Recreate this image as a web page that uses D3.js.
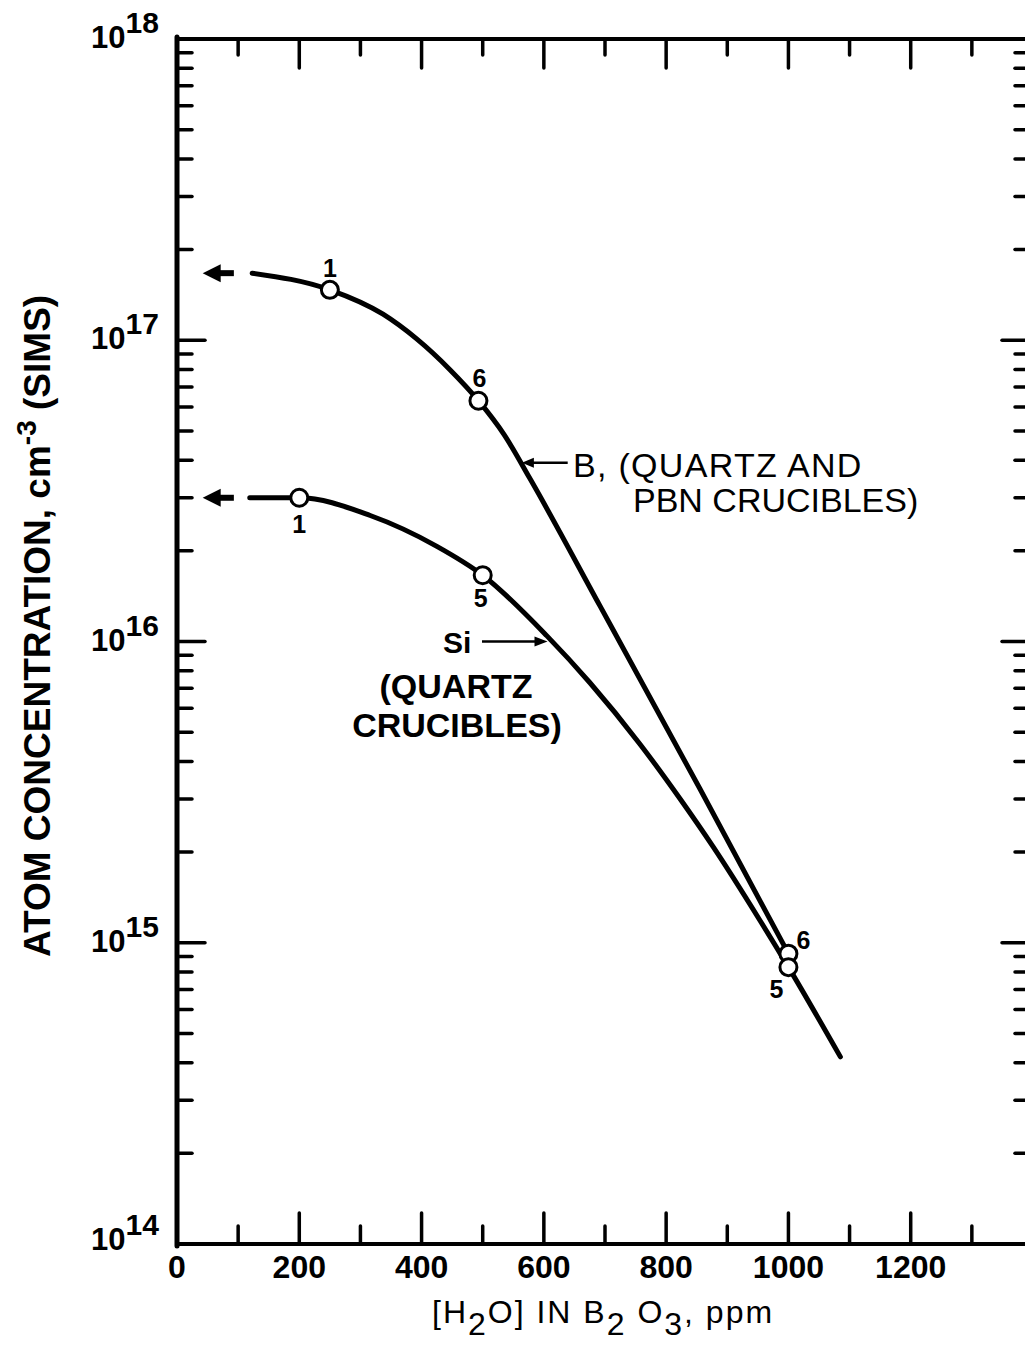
<!DOCTYPE html>
<html><head><meta charset="utf-8">
<script src="https://cdn.jsdelivr.net/npm/d3@7"></script>
<style>
body{margin:0;background:#fff;}
svg{display:block;font-family:"Liberation Sans",Arial,sans-serif;}
</style></head>
<body><svg id="c" width="1025" height="1353"></svg>
<script>
// ---- data ----
const xTicksMajor = [0,200,400,600,800,1000,1200];
const xTicksMinor = [100,300,500,700,900,1100,1300];
const yDecades = [14,15,16,17,18];
// Boron curve (quartz and PBN crucibles), ppm vs cm^-3
const bPpm  = [123, 250, 337, 392, 446, 493, 535, 577, 692, 855, 1000];
const bConc = [1.67e17, 1.47e17, 1.22e17, 1.01e17, 8.0e16, 6.3e16, 4.86e16, 3.48e16, 1.31e16, 3.25e15, 9.2e14];
// Boron measured points and run labels
const bPtPpm  = [250, 493, 1000];
const bPtConc = [1.47e17, 6.3e16, 9.2e14];
const bPtLab  = ["1","6","6"];
// Silicon curve (quartz crucibles)
const siPpm  = [119, 200, 316, 425, 500, 605, 675, 757, 823, 877, 953, 1000, 1085];
const siConc = [3.0e16, 3.0e16, 2.62e16, 2.07e16, 1.66e16, 1.044e16, 7.31e15, 4.57e15, 3.0e15, 2.08e15, 1.19e15, 8.3e14, 4.18e14];
const siPtPpm  = [200, 500, 1000];
const siPtConc = [3.0e16, 1.66e16, 8.3e14];
const siPtLab  = ["1","5","5"];
// extrapolation arrows toward 0 ppm (from, to)
const arrowPpm = [93, 42];
const bArrowConc = 1.67e17;
const siArrowConc = 3.0e16;

// ---- scales ----
const svg = d3.select("#c");
const x = d3.scaleLinear().domain([0,1400]).range([177,1033]);
const y = d3.scaleLog().domain([1e14,1e18]).range([1244,39]);
const X0 = x(0), X1 = x(1400), Y0 = y(1e14), Y1 = y(1e18);

// minor log ticks
const minorY = [];
for (let d=14; d<18; d++) for (let m=2; m<=9; m++) minorY.push(m*Math.pow(10,d));

// frame
const frame = svg.append("g").attr("stroke","#000").attr("stroke-linecap","round");
frame.append("line").attr("x1",X0).attr("x2",X0).attr("y1",Y1-2).attr("y2",Y0+2).attr("stroke-width",5);
frame.append("line").attr("x1",X0).attr("x2",X1).attr("y1",Y1).attr("y2",Y1).attr("stroke-width",4);
frame.append("line").attr("x1",X0).attr("x2",X1).attr("y1",Y0).attr("y2",Y0).attr("stroke-width",4);
frame.append("line").attr("x1",X1).attr("x2",X1).attr("y1",Y1).attr("y2",Y0).attr("stroke-width",4);

// x ticks top and bottom
const tk = svg.append("g").attr("stroke","#000").attr("stroke-width",3.5).attr("stroke-linecap","round");
xTicksMajor.filter(v=>v>0).forEach(v=>{
  tk.append("line").attr("x1",x(v)).attr("x2",x(v)).attr("y1",Y1).attr("y2",Y1+29);
  tk.append("line").attr("x1",x(v)).attr("x2",x(v)).attr("y1",Y0).attr("y2",Y0-31);
});
xTicksMinor.forEach(v=>{
  tk.append("line").attr("x1",x(v)).attr("x2",x(v)).attr("y1",Y1).attr("y2",Y1+16);
  tk.append("line").attr("x1",x(v)).attr("x2",x(v)).attr("y1",Y0).attr("y2",Y0-18);
});
// y ticks left and right
minorY.forEach(v=>{
  tk.append("line").attr("x1",X0).attr("x2",X0+15).attr("y1",y(v)).attr("y2",y(v));
  tk.append("line").attr("x1",X1-18).attr("x2",X1).attr("y1",y(v)).attr("y2",y(v));
});
yDecades.filter(d=>d>14&&d<18).forEach(d=>{
  const v=Math.pow(10,d);
  tk.append("line").attr("x1",X0).attr("x2",X0+28).attr("y1",y(v)).attr("y2",y(v));
  tk.append("line").attr("x1",X1-31).attr("x2",X1).attr("y1",y(v)).attr("y2",y(v));
});

// x tick labels
svg.append("g").selectAll("text").data(xTicksMajor).join("text")
  .attr("x",d=>x(d)).attr("y",Y0+34).attr("text-anchor","middle")
  .attr("font-size",32).attr("font-weight","bold").text(d=>d);

// y tick labels
yDecades.forEach(d=>{
  const t = svg.append("text").attr("x",91).attr("y",y(Math.pow(10,d))+(d===14?6:9))
    .attr("font-size",31).attr("font-weight","bold");
  t.append("tspan").text("10");
  t.append("tspan").attr("dy",-15).attr("font-size",30).text(d);
});

// axis titles
const xt = svg.append("text").attr("x",432).attr("y",1323).attr("font-size",32).attr("letter-spacing",2);
xt.append("tspan").text("[H");
xt.append("tspan").attr("dy",12).text("2");
xt.append("tspan").attr("dy",-12).text("O]  IN B");
xt.append("tspan").attr("dy",12).text("2");
xt.append("tspan").attr("dy",-12).text(" O");
xt.append("tspan").attr("dy",12).text("3");
xt.append("tspan").attr("dy",-12).text(", ppm");

const yt = svg.append("text").attr("transform","translate(50,957) rotate(-90)")
  .attr("font-size",37).attr("font-weight","bold");
yt.append("tspan").text("ATOM CONCENTRATION, cm");
yt.append("tspan").attr("dy",-14).attr("font-size",28).text("-3");
yt.append("tspan").attr("dy",14).text(" (SIMS)");

// curves
const line = d3.line().x(d=>x(d[0])).y(d=>y(d[1])).curve(d3.curveMonotoneX);
const curves = svg.append("g").attr("fill","none").attr("stroke","#000").attr("stroke-width",5).attr("stroke-linecap","round");
curves.append("path").attr("d",line(d3.zip(bPpm,bConc)));
curves.append("path").attr("d",line(d3.zip(siPpm,siConc)));

// extrapolation arrows
function arrow(conc){
  const yy=y(conc), xs=x(arrowPpm[0]), xe=x(arrowPpm[1]);
  svg.append("line").attr("x1",xs).attr("x2",xe+14).attr("y1",yy).attr("y2",yy)
    .attr("stroke","#000").attr("stroke-width",6);
  svg.append("path").attr("d",`M${xe},${yy} L${xe+18},${yy-9} L${xe+18},${yy+9} Z`).attr("fill","#000");
}
arrow(bArrowConc); arrow(siArrowConc);

// points
const pts = svg.append("g").attr("fill","#fff").attr("stroke","#000").attr("stroke-width",3);
d3.zip(bPtPpm,bPtConc).forEach(p=>pts.append("circle").attr("cx",x(p[0])).attr("cy",y(p[1])).attr("r",8.5));
d3.zip(siPtPpm,siPtConc).forEach(p=>pts.append("circle").attr("cx",x(p[0])).attr("cy",y(p[1])).attr("r",8.5));

// point labels
const lab = svg.append("g").attr("font-size",25).attr("font-weight","bold").attr("text-anchor","middle");
const bOff = [[0,-13],[1,-14],[15,-5]];
bPtLab.forEach((t,i)=>lab.append("text").attr("x",x(bPtPpm[i])+bOff[i][0]).attr("y",y(bPtConc[i])+bOff[i][1]).text(t));
const sOff = [[0,35],[-2,32],[-12,31]];
siPtLab.forEach((t,i)=>lab.append("text").attr("x",x(siPtPpm[i])+sOff[i][0]).attr("y",y(siPtConc[i])+sOff[i][1]).text(t));

// B annotation
const bArrY = y(3.92e16);
svg.append("line").attr("x1",x(564)+8).attr("x2",x(639)).attr("y1",bArrY).attr("y2",bArrY).attr("stroke","#000").attr("stroke-width",2.5);
svg.append("path").attr("d",`M${x(564)},${bArrY} L${x(564)+12},${bArrY-5} L${x(564)+12},${bArrY+5} Z`).attr("fill","#000");
svg.append("text").attr("x",573).attr("y",477).attr("font-size",34).attr("letter-spacing",1.3).text("B, (QUARTZ AND");
svg.append("text").attr("x",633).attr("y",512).attr("font-size",34).text("PBN CRUCIBLES)");

// Si annotation
const sArrY = y(1.0e16);
svg.append("line").attr("x1",482).attr("x2",x(606)-10).attr("y1",sArrY).attr("y2",sArrY).attr("stroke","#000").attr("stroke-width",2.5);
svg.append("path").attr("d",`M${x(606)},${sArrY} L${x(606)-13},${sArrY-5} L${x(606)-13},${sArrY+5} Z`).attr("fill","#000");
svg.append("text").attr("x",443).attr("y",653).attr("font-size",30).attr("font-weight","bold").text("Si");
svg.append("text").attr("x",456).attr("y",698).attr("font-size",34).attr("font-weight","bold").attr("text-anchor","middle").text("(QUARTZ");
svg.append("text").attr("x",457).attr("y",737).attr("font-size",34).attr("font-weight","bold").attr("text-anchor","middle").text("CRUCIBLES)");
</script></body></html>
